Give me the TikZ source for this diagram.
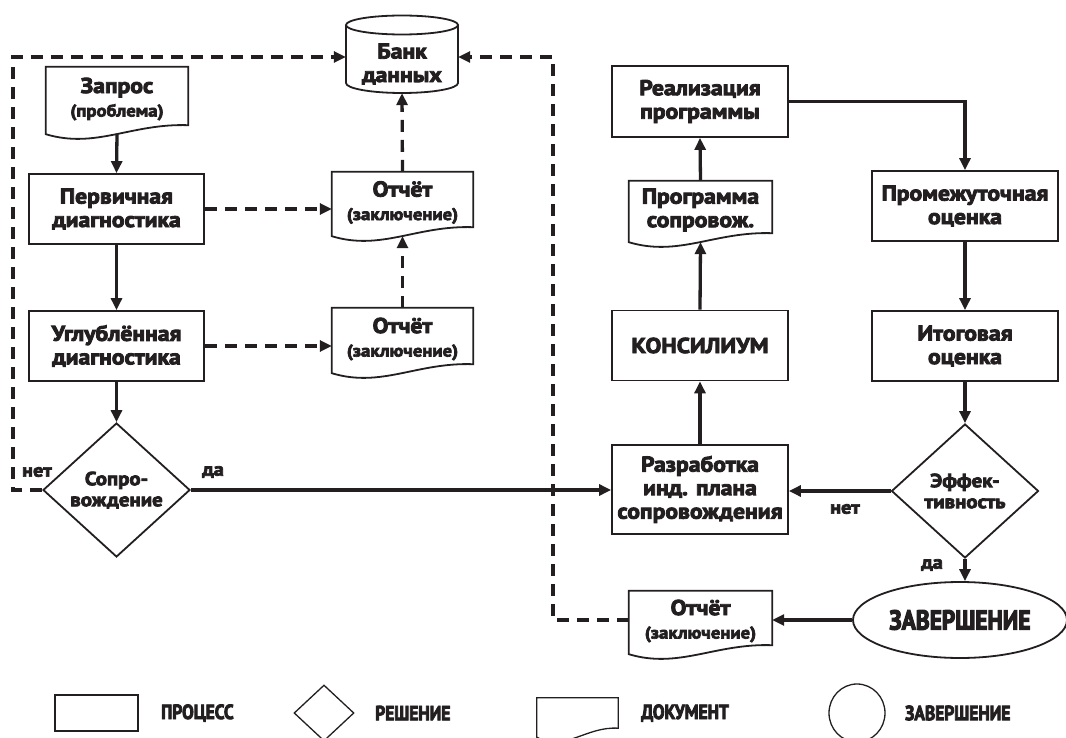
\documentclass[tikz,border=0pt]{standalone}
\usepackage{fontspec}
\setmainfont{PT Sans}[FakeStretch=1.1, FakeBold=4]
\newfontfamily\condf{PT Sans}[FakeStretch=0.85, FakeBold=4]
\usetikzlibrary{arrows.meta,shapes.geometric,calc}
\definecolor{ink}{RGB}{35,31,32}
\newcommand\subln[1]{{\fontsize{17}{19}\selectfont #1}}
\newcommand\docoutline[2][1.8pt]{\draw[ink,line width=#1,line join=miter] ([yshift=-3pt]#2.south west) -- (#2.north west) -- (#2.north east) -- ([yshift=6pt]#2.south east) .. controls ($(#2.south west)!0.6!(#2.south east)+(0pt,8pt)$) and ($(#2.south west)!0.35!(#2.south east)+(0pt,-18pt)$) .. ([yshift=-3pt]#2.south west) -- cycle;}
\begin{document}
\begin{tikzpicture}[x=1pt,y=-1pt,
  every node/.style={text=ink},
  mainfont/.style={font=\bfseries\fontsize{21.5}{23.5}\selectfont},
  box/.style={draw=ink, line width=1.8pt, align=center, inner sep=0pt, mainfont},
  docnode/.style={align=center, inner sep=0pt, mainfont},
  dec/.style={diamond, draw=ink, line width=1.8pt, align=center, inner sep=0pt,
    font=\bfseries\fontsize{19}{21}\selectfont, minimum width=147pt, minimum height=134pt},
  flow/.style={draw=ink, line width=3.3pt, -{Triangle[length=12pt,width=11pt]}},
  dflow/.style={flow, dash pattern=on 12pt off 8pt},
  lab/.style={font=\bfseries\fontsize{18.5}{20}\selectfont},
  leg/.style={draw=ink, line width=1.3pt, inner sep=0pt},
  legtext/.style={font=\condf\bfseries\fontsize{20.5}{22}\selectfont, anchor=west, inner sep=0pt},
]
\useasboundingbox (0,0) rectangle (1066,738);

% left column
\node[docnode, minimum width=142pt, minimum height=64pt] (zapros) at (117,99) {Запрос\\\subln{(проблема)}};
\docoutline{zapros}
\node[box, minimum width=175pt, minimum height=70pt] (perv) at (116.5,209) {Первичная\\диагностика};
\node[box, minimum width=175pt, minimum height=70pt] (ugl) at (116.5,346) {Углублённая\\диагностика};
\node[dec] (d1) at (116.5,490) {Сопро-\\вождение};

% middle column
\node[mainfont, align=center, minimum width=112pt, minimum height=58pt, inner sep=0pt] (bank) at (402,64) {Банк\\данных};
\draw[ink, line width=1.8pt] (346,25) -- (346,83) arc[start angle=180, end angle=360, x radius=56pt, y radius=10pt] -- (458,25);
\draw[ink, line width=1.8pt] (402,25) ellipse [x radius=56pt, y radius=9.5pt];
\node[docnode, minimum width=141pt, minimum height=61pt] (otch1) at (402.5,202.5) {Отчёт\\\subln{(заключение)}};
\docoutline{otch1}
\node[docnode, minimum width=141pt, minimum height=62pt] (otch2) at (402.5,339) {Отчёт\\\subln{(заключение)}};
\docoutline{otch2}

% right part
\node[box, minimum width=176pt, minimum height=71pt] (real) at (700,101.5) {Реализация\\программы};
\node[docnode, minimum width=143pt, minimum height=58pt] (prog) at (700.5,210) {Программа\\сопровож.};
\docoutline{prog}
\node[box, minimum width=176pt, minimum height=70pt] (kons) at (700,345.5) {КОНСИЛИУМ};
\node[box, minimum width=176pt, minimum height=89pt] (razr) at (700,489.5) {Разработка\\инд. плана\\сопровождения};
\node[box, minimum width=186pt, minimum height=70pt] (prom) at (965,206) {Промежуточная\\оценка};
\node[box, minimum width=186pt, minimum height=70pt] (itog) at (965,346) {Итоговая\\оценка};
\node[dec] (d2) at (965,491) {Эффек-\\тивность};
\node[ellipse, draw=ink, line width=1.8pt, minimum width=214pt, minimum height=76pt, inner sep=0pt,
  font=\condf\bfseries\fontsize{27.5}{29}\selectfont] (zav) at (960,620) {ЗАВЕРШЕНИЕ};
\node[docnode, minimum width=143pt, minimum height=60pt] (otch3) at (700.5,621) {Отчёт\\\subln{(заключение)}};
\docoutline{otch3}

% corner coordinates of the dashed loops
\coordinate (cTL) at (13,57);
\coordinate (cBL) at (13,490);
\coordinate (cTR) at (553,57);
\coordinate (cBR) at (553,620);

% connectors
\draw[flow] ([yshift=-3pt]zapros.south) -- (perv.north);
\draw[flow] (perv.south) -- (ugl.north);
\draw[flow] (ugl.south) -- (d1.north);
\draw[dflow] (perv.east) -- (perv.east -| otch1.west);
\draw[dflow] (ugl.east) -- (ugl.east -| otch2.west);
\draw[dflow] (otch2.north) -- ([yshift=-3pt]otch1.south);
\draw[dflow] (otch1.north) -- (bank.south);
\draw[dflow] (d1.west) -- (cBL) -- (cTL) -- (bank.west |- cTL);
\draw[flow] (d1.east) -- (d1.east -| razr.west);
\draw[flow] (razr.north) -- (kons.south);
\draw[flow] (kons.north) -- ([yshift=-3pt]prog.south);
\draw[flow] (prog.north) -- (real.south);
\draw[flow] (real.east) -| (prom.north);
\draw[flow] (prom.south) -- (itog.north);
\draw[flow] (itog.south) -- (d2.north);
\draw[flow] (d2.west) -- (d2.west -| razr.east);
\draw[flow] (d2.south) -- (d2.south |- zav.north);
\draw[flow] (zav.west) -- (zav.west -| otch3.east);
\draw[dflow] (otch3.west |- zav.west) -- (cBR) -- (cTR) -- (bank.east |- cTR);

% labels
\node[lab] (l1) at (37,472) {нет};
\node[lab] (l2) at (213,472) {да};
\node[lab] (l3) at (845,509) {нет};
\node[lab] (l4) at (932,565) {да};

% legend
\node[leg, minimum width=83pt, minimum height=36pt] (lp) at (96.5,713) {};
\node[legtext] (lpt) at (161,713) {ПРОЦЕСС};
\node[leg, diamond, minimum width=60pt, minimum height=56pt] (ld) at (324,713) {};
\node[legtext] (ldt) at (375,713) {РЕШЕНИЕ};
\node[minimum width=81pt, minimum height=36pt, inner sep=0pt] (ldoc) at (577.5,716) {};
\docoutline[1.3pt]{ldoc}
\node[legtext] (ldoct) at (641,713) {ДОКУМЕНТ};
\node[leg, ellipse, minimum width=56pt, minimum height=58pt] (le) at (857,713) {};
\node[legtext] (let) at (905,713) {ЗАВЕРШЕНИЕ};
\end{tikzpicture}
\end{document}
